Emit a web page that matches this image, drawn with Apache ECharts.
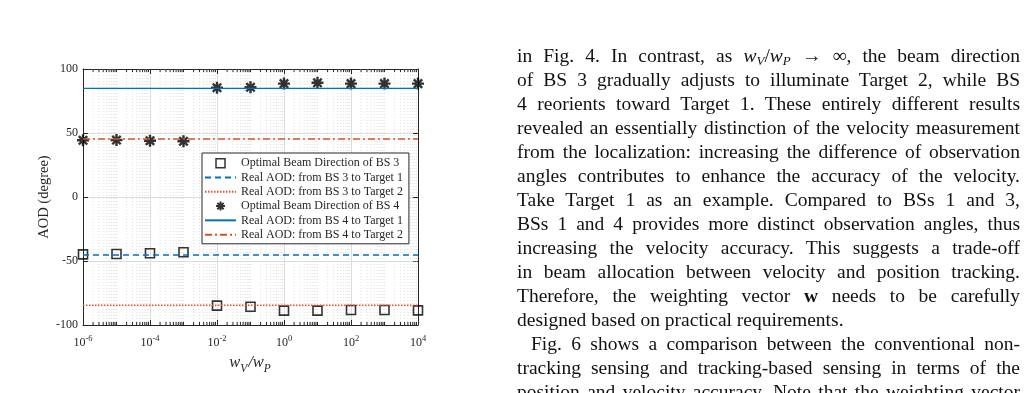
<!DOCTYPE html>
<html><head><meta charset="utf-8">
<script src="https://cdn.jsdelivr.net/npm/echarts@6/dist/echarts.min.js"></script>
<style>
html,body{margin:0;padding:0;background:#fff;}
#chart{position:absolute;left:0;top:0;width:1029px;height:393px;}
#text{position:absolute;left:517px;top:44px;width:503px;font-family:"Liberation Serif",serif;font-size:19.5px;line-height:24px;color:#111;}
#text .l{white-space:nowrap;text-align:justify;text-align-last:justify;height:24px;}
#text .last{text-align-last:left;}
#text .ind{text-indent:14px;}
#text sub{font-size:13px;line-height:0;vertical-align:-3px;}
</style></head>
<body>
<div id="chart"></div>
<div id="text">
<div class="l">in Fig. 4. In contrast, as <i>w</i><sub><i>V</i></sub>/<i>w</i><sub><i>P</i></sub> &rarr; &infin;, the beam direction</div>
<div class="l">of BS 3 gradually adjusts to illuminate Target 2, while BS</div>
<div class="l">4 reorients toward Target 1. These entirely different results</div>
<div class="l">revealed an essentially distinction of the velocity measurement</div>
<div class="l">from the localization: increasing the difference of observation</div>
<div class="l">angles contributes to enhance the accuracy of the velocity.</div>
<div class="l">Take Target 1 as an example. Compared to BSs 1 and 3,</div>
<div class="l">BSs 1 and 4 provides more distinct observation angles, thus</div>
<div class="l">increasing the velocity accuracy. This suggests a trade-off</div>
<div class="l">in beam allocation between velocity and position tracking.</div>
<div class="l">Therefore, the weighting vector <b>w</b> needs to be carefully</div>
<div class="l last">designed based on practical requirements.</div>
<div class="l ind">Fig. 6 shows a comparison between the conventional non-</div>
<div class="l">tracking sensing and tracking-based sensing in terms of the</div>
<div class="l">position and velocity accuracy. Note that the weighting vector</div>
</div>
<script>
// ---- data ----
const xValues = [1e-6, 1e-5, 1e-4, 1e-3, 1e-2, 1e-1, 1, 10, 100, 1000, 1e4];
const bs3Optimal = [-44.8, -44.5, -44.0, -43.2, -84.9, -85.7, -88.8, -88.8, -88.3, -88.3, -88.6];
const bs4Optimal = [44.3, 44.5, 44.0, 43.5, 85.4, 85.7, 88.6, 89.2, 88.6, 88.6, 88.6];
const lineX = [1e-6, 1e4];
const bs3ToTarget1 = [-45.3, -45.3];
const bs3ToTarget2 = [-84.6, -84.6];
const bs4ToTarget1 = [84.9, 84.9];
const bs4ToTarget2 = [45.3, 45.3];
const xMajorTicks = [1e-6, 1e-4, 1e-2, 1, 1e2, 1e4];
const seriesNames = [
  'Optimal Beam Direction of BS 3',
  'Real AOD: from BS 3 to Target 1',
  'Real AOD: from BS 3 to Target 2',
  'Optimal Beam Direction of BS 4',
  'Real AOD: from BS 4 to Target 1',
  'Real AOD: from BS 4 to Target 2'
];

// minor log ticks (2..9 x 10^k and odd decades)
const xMinorTicks = [];
for (let k = -6; k < 4; k++) {
  for (let m = 1; m <= 9; m++) {
    const v = m * Math.pow(10, k);
    if (m === 1 && (k % 2 === 0)) continue;
    xMinorTicks.push(v);
  }
}

const FONT = '"Liberation Serif", "Times New Roman", serif';
const AX = '#262626';
const BLUE = '#0072BD';
const ORANGE = '#D95319';
const STAR = 'path://M0,-10L0,10M-10,0L10,0M-7,-7L7,7M-7,7L7,-7';
const SQUARE = 'path://M0,0L10,0L10,10L0,10Z';
const NOSYM = {color: 'rgba(0,0,0,0)', borderColor: 'rgba(0,0,0,0)', borderWidth: 0};

const chart = echarts.init(document.getElementById('chart'), null, {renderer: 'canvas'});

function pairs(xs, ys) { return xs.map((x, i) => [x, ys[i]]); }

const option = {
  animation: false,
  backgroundColor: '#fff',
  grid: {left: 83, top: 69, width: 335, height: 256, containLabel: false},
  xAxis: [{
    type: 'log', logBase: 10, min: 1e-6, max: 1e4, position: 'bottom',
    axisLine: {show: true, onZero: false, lineStyle: {color: AX, width: 1}},
    axisTick: {show: true, inside: true, length: 5, customValues: xMajorTicks, lineStyle: {color: AX}},
    axisLabel: {
      show: true, customValues: xMajorTicks, margin: 10,
      formatter: v => '{b|10}{s|' + Math.round(Math.log10(v)) + '}',
      rich: {
        b: {fontFamily: FONT, fontSize: 12, color: AX, verticalAlign: 'bottom', lineHeight: 14},
        s: {fontFamily: FONT, fontSize: 8.5, color: AX, verticalAlign: 'bottom', lineHeight: 14, padding: [0, 0, 6, 0]}
      }
    },
    splitLine: {show: true, lineStyle: {color: '#dcdcdc', width: 1}},
    name: '{i|w}{s|V}{i|/w}{s|P}',
    nameLocation: 'middle', nameGap: 25,
    nameTextStyle: {
      rich: {
        i: {fontFamily: FONT, fontStyle: 'italic', fontSize: 16.5, color: AX, verticalAlign: 'bottom', lineHeight: 18, padding: [0, 0, 4, 0]},
        s: {fontFamily: FONT, fontStyle: 'italic', fontSize: 11.5, color: AX, verticalAlign: 'bottom', lineHeight: 14, padding: [0, 1, 0, 0]}
      }
    }
  }, {
    type: 'log', logBase: 10, min: 1e-6, max: 1e4, position: 'top',
    axisLine: {show: true, onZero: false, lineStyle: {color: AX, width: 1}},
    axisTick: {show: true, inside: true, length: 5, customValues: xMajorTicks, lineStyle: {color: AX}},
    axisLabel: {show: false},
    splitLine: {show: false}
  }],
  yAxis: [{
    type: 'value', min: -100, max: 100, interval: 50, position: 'left',
    axisLine: {show: true, onZero: false, lineStyle: {color: AX, width: 1}},
    axisTick: {show: true, inside: true, length: 5, lineStyle: {color: AX}},
    axisLabel: {show: true, margin: 5, fontFamily: FONT, fontSize: 12, color: AX},
    splitLine: {show: true, lineStyle: {color: '#dcdcdc', width: 1}},
    name: 'AOD (degree)', nameLocation: 'middle', nameGap: 29, nameRotate: 90,
    nameTextStyle: {fontFamily: FONT, fontSize: 14.5, color: AX}
  }, {
    type: 'value', min: -100, max: 100, interval: 50, position: 'right',
    axisLine: {show: true, onZero: false, lineStyle: {color: AX, width: 1}},
    axisTick: {show: true, inside: true, length: 5, lineStyle: {color: AX}},
    axisLabel: {show: false},
    splitLine: {show: false}
  }],
  legend: {
    show: true, orient: 'vertical', left: 202, top: 153,
    backgroundColor: '#fff', borderColor: AX, borderWidth: 1, borderRadius: 0,
    padding: [3, 6, 2, 2], itemGap: 0, itemWidth: 31, itemHeight: 9,
    textStyle: {fontFamily: FONT, fontSize: 12, color: AX, lineHeight: 14.3},
    selectedMode: false,
    data: [
      {name: seriesNames[0], icon: SQUARE, itemStyle: {color: 'rgba(0,0,0,0)', borderColor: '#000', borderWidth: 1.5}},
      {name: seriesNames[1], itemStyle: NOSYM},
      {name: seriesNames[2], itemStyle: NOSYM},
      {name: seriesNames[3], icon: STAR, itemStyle: {color: 'rgba(0,0,0,0)', borderColor: '#000', borderWidth: 2}},
      {name: seriesNames[4], itemStyle: NOSYM},
      {name: seriesNames[5], itemStyle: NOSYM}
    ]
  },
  series: [
    {
      type: 'custom', name: 'minorGrid', silent: true, z: 1,
      xAxisIndex: 0, yAxisIndex: 0,
      data: xMinorTicks.map(v => [v, 0]),
      renderItem: function (params, api) {
        const x = api.value(0);
        const top = api.coord([x, 100]);
        const bot = api.coord([x, -100]);
        return {
          type: 'group',
          children: [
            {type: 'line', shape: {x1: bot[0], y1: bot[1], x2: top[0], y2: top[1]},
             style: {stroke: '#d4d4d4', lineWidth: 0.7, lineDash: [1, 2]}},
            {type: 'line', shape: {x1: bot[0], y1: bot[1], x2: bot[0], y2: bot[1] - 3},
             style: {stroke: AX, lineWidth: 1}},
            {type: 'line', shape: {x1: top[0], y1: top[1], x2: top[0], y2: top[1] + 3},
             style: {stroke: AX, lineWidth: 1}}
          ]
        };
      }
    },
    {
      name: seriesNames[0], type: 'scatter', z: 3,
      data: pairs(xValues, bs3Optimal), symbol: 'rect', symbolSize: 9,
      itemStyle: {color: 'rgba(0,0,0,0)', borderColor: '#000', borderWidth: 1.6}
    },
    {
      name: seriesNames[1], type: 'line', z: 4, data: pairs(lineX, bs3ToTarget1),
      symbol: 'none', lineStyle: {color: BLUE, width: 1.5, type: [6, 4]}, itemStyle: {color: BLUE}
    },
    {
      name: seriesNames[2], type: 'line', z: 4, data: pairs(lineX, bs3ToTarget2),
      symbol: 'none', lineStyle: {color: '#E8502A', width: 1.6, type: [1.5, 1.5]}, itemStyle: {color: '#E8502A'}
    },
    {
      name: seriesNames[3], type: 'scatter', z: 3,
      data: pairs(xValues, bs4Optimal), symbol: STAR, symbolSize: 12,
      itemStyle: {color: 'rgba(0,0,0,0)', borderColor: '#000', borderWidth: 2.4}
    },
    {
      name: seriesNames[4], type: 'line', z: 4, data: pairs(lineX, bs4ToTarget1),
      symbol: 'none', lineStyle: {color: BLUE, width: 1.3, type: 'solid'}, itemStyle: {color: BLUE}
    },
    {
      name: seriesNames[5], type: 'line', z: 4, data: pairs(lineX, bs4ToTarget2),
      symbol: 'none', lineStyle: {color: ORANGE, width: 1.5, type: [7, 3, 2, 3]}, itemStyle: {color: ORANGE}
    }
  ]
};
chart.setOption(option);
</script>
</body></html>
